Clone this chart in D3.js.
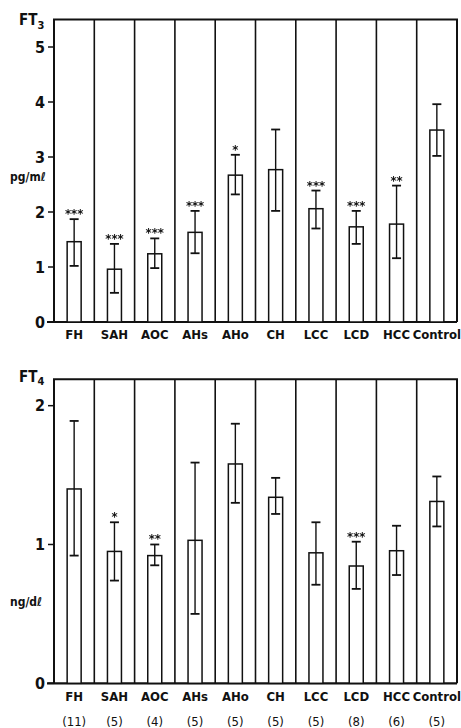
<!DOCTYPE html>
<html><head><meta charset="utf-8">
<script src="https://cdn.jsdelivr.net/npm/d3@7"></script>
<style>
body{margin:0;background:#fff}
svg{display:block}
text{font-family:"Liberation Sans Narrow","DejaVu Sans Condensed","Liberation Sans",sans-serif;fill:#111}
.stars{will-change:transform;opacity:0.99}
</style></head>
<body><svg id="c" width="461" height="728"></svg>
<script>
const categories = ["FH","SAH","AOC","AHs","AHo","CH","LCC","LCD","HCC","Control"];
const nLabels = ["(11)","(5)","(4)","(5)","(5)","(5)","(5)","(8)","(6)","(5)"];
// FT3 (pg/ml)
const ft3Mean = [1.46,0.96,1.24,1.63,2.67,2.77,2.06,1.73,1.78,3.49];
const ft3Hi   = [1.87,1.42,1.52,2.02,3.04,3.50,2.39,2.02,2.48,3.96];
const ft3Lo   = [1.02,0.53,0.98,1.25,2.32,2.02,1.70,1.42,1.16,3.02];
const ft3Sig  = ["***","***","***","***","*","","***","***","**",""];
const ft3Ticks = [0,1,2,3,4,5];
// FT4 (ng/dl)
const ft4Mean = [1.40,0.95,0.92,1.03,1.58,1.34,0.94,0.845,0.955,1.31];
const ft4Hi   = [1.89,1.16,1.00,1.59,1.87,1.48,1.16,1.02,1.135,1.49];
const ft4Lo   = [0.92,0.74,0.85,0.50,1.30,1.22,0.71,0.68,0.78,1.13];
const ft4Sig  = ["","*","**","","","","","***","",""];
const ft4Ticks = [0,1,2];

const svg = d3.select("#c");
svg.append("defs").append("filter").attr("id","gray")
  .append("feColorMatrix").attr("type","saturate").attr("values",0);
const x = d3.scaleBand().domain(categories).range([54,457]).padding(0);
const barW = 14, capW = 9;

function panel(cfg){
  const g = svg.append("g");
  const y = d3.scaleLinear().domain([0,cfg.max]).range([cfg.bottom,cfg.top]);
  const data = categories.map((c,i)=>({c,m:cfg.mean[i],hi:cfg.hi[i],lo:cfg.lo[i],s:cfg.sig[i]}));
  g.selectAll("line.div").data(categories.slice(1)).join("line")
    .attr("x1",d=>x(d)).attr("x2",d=>x(d)).attr("y1",y(cfg.max)).attr("y2",y(0))
    .attr("stroke","#111").attr("stroke-width",1.6);
  g.append("path").attr("d",`M${x.range()[0]},${y(0)}V${y(cfg.max)}H${x.range()[1]}V${y(0)}`)
    .attr("fill","none").attr("stroke","#111").attr("stroke-width",2);
  g.append("line").attr("x1",47).attr("x2",457).attr("y1",y(0)).attr("y2",y(0))
    .attr("stroke","#111").attr("stroke-width",2.2);
  const yt = g.selectAll("g.yt").data(cfg.ticks).join("g").attr("transform",d=>`translate(0,${y(d)})`);
  yt.append("line").attr("x1",48).attr("x2",54).attr("stroke","#111").attr("stroke-width",1.5);
  yt.append("text").attr("x",45).attr("dy","0.36em").attr("text-anchor","end")
    .attr("font-size",16).attr("font-weight","bold").text(d=>d);
  const b = g.selectAll("g.bar").data(data).join("g");
  b.append("rect").attr("x",d=>x(d.c)+x.bandwidth()/2-barW/2).attr("width",barW)
    .attr("y",d=>y(d.m)).attr("height",d=>y(0)-y(d.m))
    .attr("fill","#fff").attr("stroke","#111").attr("stroke-width",1.5);
  const cx = d=>x(d.c)+x.bandwidth()/2;
  b.append("line").attr("x1",cx).attr("x2",cx).attr("y1",d=>y(d.hi)).attr("y2",d=>y(d.lo))
    .attr("stroke","#111").attr("stroke-width",1.4);
  b.append("line").attr("x1",d=>cx(d)-capW/2).attr("x2",d=>cx(d)+capW/2).attr("y1",d=>y(d.hi)).attr("y2",d=>y(d.hi))
    .attr("stroke","#111").attr("stroke-width",1.8);
  b.append("line").attr("x1",d=>cx(d)-capW/2).attr("x2",d=>cx(d)+capW/2).attr("y1",d=>y(d.lo)).attr("y2",d=>y(d.lo))
    .attr("stroke","#111").attr("stroke-width",1.8);
  const sg = g.append("g").attr("filter","url(#gray)");
  sg.selectAll("text").data(data).join("text").attr("x",cx).attr("y",d=>y(d.hi)-1).attr("text-anchor","middle")
    .attr("font-size",13).attr("font-weight","bold").text(d=>d.s);
  g.selectAll("text.cat").data(categories).join("text")
    .attr("x",d=>x(d)+x.bandwidth()/2).attr("y",cfg.labelY).attr("text-anchor","middle")
    .attr("font-size",13).attr("font-weight","bold").text(d=>d);
  return y;
}

panel({mean:ft3Mean,hi:ft3Hi,lo:ft3Lo,sig:ft3Sig,ticks:ft3Ticks,max:5.5,bottom:322,top:19.5,labelY:339});
panel({mean:ft4Mean,hi:ft4Hi,lo:ft4Lo,sig:ft4Sig,ticks:ft4Ticks,max:2.19,bottom:683.3,top:379.3,labelY:701});

svg.selectAll("text.n").data(nLabels).join("text")
  .attr("x",(d,i)=>x(categories[i])+x.bandwidth()/2).attr("y",726).attr("text-anchor","middle")
  .attr("font-size",13).text(d=>d);

const t3 = svg.append("text").attr("x",19).attr("y",25).attr("font-size",15).attr("font-weight","bold");
t3.append("tspan").text("FT");
t3.append("tspan").attr("dy",4).attr("font-size",11).text("3");
const t4 = svg.append("text").attr("x",19).attr("y",382).attr("font-size",15).attr("font-weight","bold");
t4.append("tspan").text("FT");
t4.append("tspan").attr("dy",3).attr("font-size",11).text("4");
svg.append("text").attr("x",10).attr("y",181).attr("font-size",12).attr("font-weight","bold").text("pg/mℓ");
svg.append("text").attr("x",10).attr("y",606).attr("font-size",12).attr("font-weight","bold").text("ng/dℓ");
</script></body></html>
